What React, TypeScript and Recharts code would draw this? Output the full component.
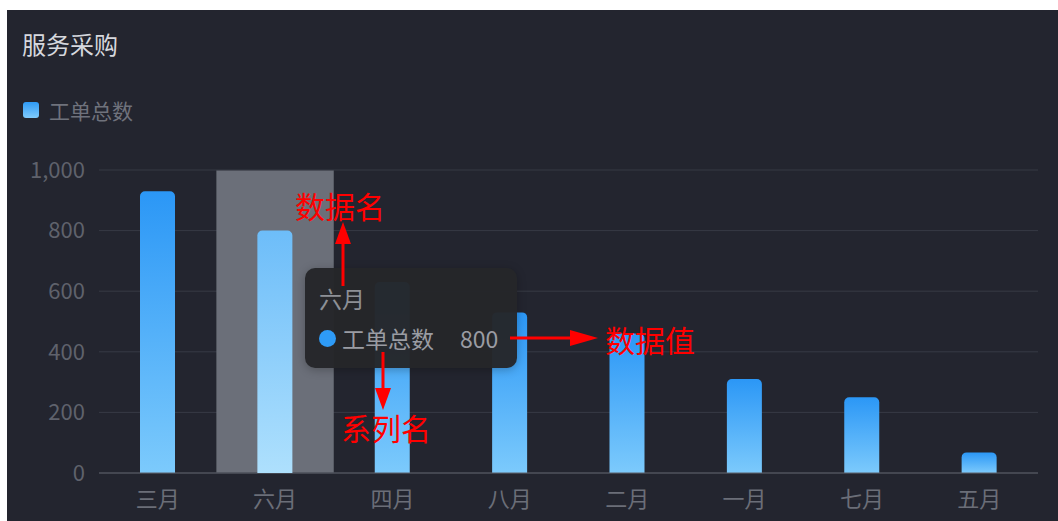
import { Bar, BarChart, CartesianGrid, Tooltip, XAxis, YAxis } from "recharts"

const months = ["三月", "六月", "四月", "八月", "二月", "一月", "七月", "五月"]
const ticketTotals = [930, 800, 630, 530, 460, 310, 250, 68]
const yTicks = [0, 200, 400, 600, 800, 1000]
const seriesName = "工单总数"
const chartTitle = "服务采购"

const data = months.map((month, i) => ({ month, total: ticketTotals[i] }))

const FONT = '"Noto Sans CJK SC", "Noto Sans", sans-serif'

function TipBox({ active, payload }: any) {
  if (!active || !payload || !payload.length) return null
  const item = payload[0]
  return (
    <div
      style={{
        width: 212,
        height: 100,
        boxSizing: "border-box",
        padding: "17px 14px",
        background: "rgba(37,38,41,0.97)",
        borderRadius: 10,
        boxShadow: "0 2px 10px rgba(0,0,0,0.25)",
        fontFamily: FONT,
        fontSize: 23,
        color: "#8d9096",
        lineHeight: "27px",
      }}
    >
      <div>{item.payload.month}</div>
      <div style={{ display: "flex", alignItems: "center", marginTop: 13 }}>
        <span
          style={{
            width: 17,
            height: 17,
            borderRadius: "50%",
            background: "#2e9bf7",
            display: "inline-block",
            marginRight: 6,
          }}
        />
        <span style={{ color: "#9a9ca3" }}>{item.name}</span>
        <span style={{ color: "#9a9ca3", marginLeft: 26 }}>{item.value}</span>
      </div>
    </div>
  )
}

export default function App() {
  return (
    <div style={{ position: "absolute", left: 0, top: 0, width: 1058, height: 521, background: "#fff" }}>
      <div
        style={{
          position: "absolute",
          left: 7,
          top: 10,
          width: 1051,
          height: 511,
          background: "#23252f",
          fontFamily: FONT,
        }}
      >
        <div style={{ position: "absolute", left: 15, top: 19, fontSize: 24, color: "#d6d8de", lineHeight: "30px" }}>
          {chartTitle}
        </div>
        <div style={{ position: "absolute", left: 16, top: 86, display: "flex", alignItems: "center" }}>
          <span
            style={{
              width: 16,
              height: 16,
              borderRadius: 3,
              background: "linear-gradient(#2e9bf7, #80cbfc)",
              display: "inline-block",
              marginRight: 10,
            }}
          />
          <span style={{ fontSize: 21, color: "#6f727c", lineHeight: "28px" }}>{seriesName}</span>
        </div>

        <BarChart
          width={1051}
          height={511}
          data={data}
          margin={{ top: 160, right: 20, left: 0, bottom: 0 }}
          style={{ position: "absolute", left: 0, top: 0 }}
        >
          <defs>
            <linearGradient id="barFill" x1="0" y1="0" x2="0" y2="1">
              <stop offset="0%" stopColor="#2b97f6" />
              <stop offset="100%" stopColor="#7ccafc" />
            </linearGradient>
            <linearGradient id="barActive" x1="0" y1="0" x2="0" y2="1">
              <stop offset="0%" stopColor="#6dbdf9" />
              <stop offset="100%" stopColor="#aee0fd" />
            </linearGradient>
          </defs>
          <CartesianGrid stroke="#373a45" vertical={false} />
          <XAxis
            dataKey="month"
            height={48}
            tickLine={false}
            tickSize={0}
            tickMargin={18}
            axisLine={{ stroke: "#5d606b" }}
            tick={{ fill: "#6b6e78", fontSize: 22, fontFamily: FONT }}
          />
          <YAxis
            width={92}
            domain={[0, 1000]}
            ticks={yTicks}
            tickLine={false}
            tickSize={0}
            tickMargin={14}
            axisLine={false}
            tickFormatter={(v: number) => v.toLocaleString("en-US")}
            tick={{ fill: "#5f626c", fontSize: 22, fontFamily: FONT }}
          />
          <Tooltip
            active
            defaultIndex={1}
            isAnimationActive={false}
            position={{ x: 298, y: 258 }}
            cursor={{ fill: "#6b6f79" }}
            content={<TipBox />}
            wrapperStyle={{ zIndex: 2 }}
          />
          <Bar
            dataKey="total"
            name={seriesName}
            barSize={35}
            fill="url(#barFill)"
            radius={[5, 5, 0, 0]}
            activeBar={{ fill: "url(#barActive)" }}
            isAnimationActive={false}
          />
        </BarChart>
      </div>

      <svg
        width={1058}
        height={521}
        style={{ position: "absolute", left: 0, top: 0, pointerEvents: "none", zIndex: 5 }}
      >
        <g fill="#ff0000" stroke="none" fontFamily={FONT} fontSize={30}>
          <text x={295} y={218}>数据名</text>
          <text x={605} y={352}>数据值</text>
          <text x={341} y={440}>系列名</text>
        </g>
        <g stroke="#ff0000" strokeWidth={3}>
          <line x1={343} y1={286} x2={343} y2={240} />
          <line x1={510} y1={338} x2={572} y2={338} />
          <line x1={383} y1={352} x2={383} y2={392} />
        </g>
        <g fill="#ff0000">
          <polygon points="343,222 335,244 351,244" />
          <polygon points="598,338 570,330 570,346" />
          <polygon points="383,410 375,388 391,388" />
        </g>
      </svg>
    </div>
  )
}
